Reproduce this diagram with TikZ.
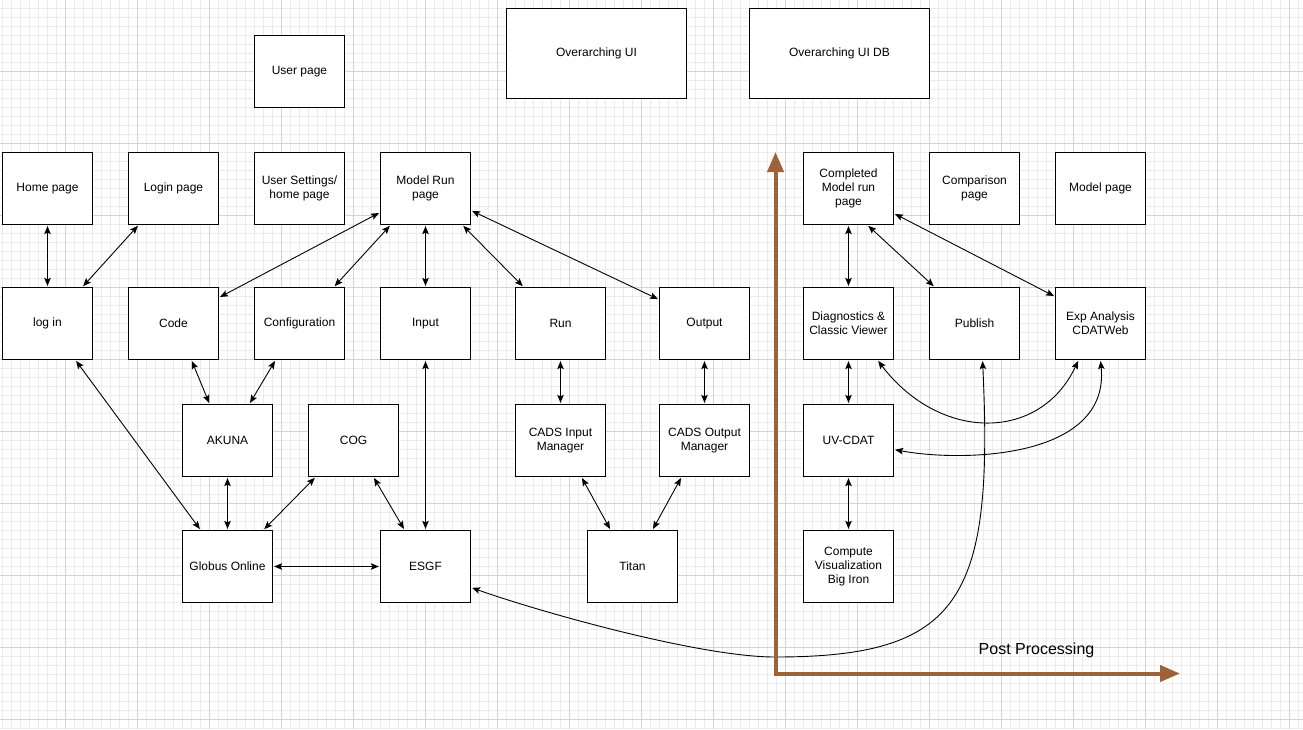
\documentclass[tikz,border=0pt]{standalone}
\usepackage{fontspec}
\setmainfont{Liberation Sans}
\usetikzlibrary{arrows.meta,calc}
\definecolor{brownax}{RGB}{156,99,56}
\definecolor{gridminor}{RGB}{236,236,236}
\definecolor{gridmajor}{RGB}{212,212,212}
\begin{document}
\begin{tikzpicture}[x=1pt,y=-1pt,
  box/.style={draw=black, line width=1.2pt, fill=white, minimum width=90pt, minimum height=72pt, inner sep=0pt, align=center, font=\fontsize{12}{14}\selectfont},
  bigbox/.style={box, minimum width=180pt, minimum height=90pt},
  link/.style={line width=0.9pt, {Stealth[length=8pt,width=6.5pt,inset=1.5pt]}-{Stealth[length=8pt,width=6.5pt,inset=1.5pt]}, shorten <=1pt, shorten >=1pt},
  axisline/.style={draw=brownax, line width=4pt, line join=miter, {Triangle[length=20pt,width=16pt]}-{Triangle[length=20pt,width=16pt]}},
  lbl/.style={font=\fontsize{16}{19}\selectfont}]
\useasboundingbox (0,0) rectangle (1303,729);
\fill[white] (0,0) rectangle (1303,729);
% grid
\foreach \x in {2.5,11.5,...,1303} \draw[gridminor, line width=0.8pt] (\x,0) -- (\x,729);
\foreach \y in {8.5,17.5,...,729} \draw[gridminor, line width=0.8pt] (0,\y) -- (1303,\y);
\foreach \x in {65.5,137.5,...,1303} \draw[gridmajor, line width=0.9pt] (\x,0) -- (\x,729);
\foreach \y in {71.5,143.5,...,729} \draw[gridmajor, line width=0.9pt] (0,\y) -- (1303,\y);

% top
\node[box] (user) at (299.5,71.5) {User page};
\node[bigbox] (oui) at (596.5,53.5) {Overarching UI};
\node[bigbox] (ouidb) at (839.5,53.5) {Overarching UI DB};
% row 1
\node[box] (home) at (47.5,188.5) {Home page};
\node[box] (loginp) at (173.5,188.5) {Login page};
\node[box] (usettings) at (299.5,188.5) {User Settings/\\home page};
\node[box] (modelrun) at (425.5,188.5) {Model Run\\page};
% row 2
\node[box] (login) at (47.5,323.5) {log in};
\node[box] (code) at (173.5,323.5) {Code};
\node[box] (config) at (299.5,323.5) {Configuration};
\node[box] (input) at (425.5,323.5) {Input};
\node[box] (run) at (560.5,323.5) {Run};
\node[box] (output) at (704.5,323.5) {Output};
% row 3
\node[box] (akuna) at (227.5,440.5) {AKUNA};
\node[box] (cog) at (353.5,440.5) {COG};
\node[box] (cadsin) at (560.5,440.5) {CADS Input\\Manager};
\node[box] (cadsout) at (704.5,440.5) {CADS Output\\Manager};
% row 4
\node[box] (globus) at (227.5,566.5) {Globus Online};
\node[box] (esgf) at (425.5,566.5) {ESGF};
\node[box] (titan) at (632.5,566.5) {Titan};
% right
\node[box] (completed) at (848.5,188.5) {Completed\\Model run\\page};
\node[box] (comparison) at (974.5,188.5) {Comparison\\page};
\node[box] (modelpage) at (1100.5,188.5) {Model page};
\node[box] (diag) at (848.5,323.5) {Diagnostics \&\\Classic Viewer};
\node[box] (publish) at (974.5,323.5) {Publish};
\node[box] (exp) at (1100.5,323.5) {Exp Analysis\\CDATWeb};
\node[box] (uvcdat) at (848.5,440.5) {UV-CDAT};
\node[box] (compute) at (848.5,566.5) {Compute\\Visualization\\Big Iron};

% connectors
\draw[link] (home.south) -- (login.north);
\draw[link] ([xshift=-35pt]loginp.south) -- ([xshift=35pt]login.north);
\draw[link] ([yshift=-24pt]modelrun.west) -- ([yshift=26pt]code.east);
\draw[link] ([xshift=-35pt]modelrun.south) -- ([xshift=34.5pt]config.north);
\draw[link] (modelrun.south) -- (input.north);
\draw[link] ([xshift=37pt]modelrun.south) -- ([xshift=-37pt]run.north);
\draw[link] ([yshift=-22pt]modelrun.east) -- ([yshift=24pt]output.west);
\draw[link] ([xshift=28pt]login.south) -- ([xshift=-27pt]globus.north);
\draw[link] ([xshift=18pt]code.south) -- ([xshift=-18pt]akuna.north);
\draw[link] ([xshift=-24pt]config.south) -- ([xshift=22pt]akuna.north);
\draw[link] (akuna.south) -- (globus.north);
\draw[link] ([xshift=-38pt]cog.south) -- ([xshift=36pt]globus.north);
\draw[link] ([xshift=20pt]cog.south) -- ([xshift=-21pt]esgf.north);
\draw[link] (input.south) -- (esgf.north);
\draw[link] (globus.east) -- (esgf.west);
\draw[link] (run.south) -- (cadsin.north);
\draw[link] (output.south) -- (cadsout.north);
\draw[link] ([xshift=21pt]cadsin.south) -- ([xshift=-22pt]titan.north);
\draw[link] ([xshift=-23pt]cadsout.south) -- ([xshift=20pt]titan.north);
\draw[link] (completed.south) -- (diag.north);
\draw[link] ([xshift=19pt]completed.south) -- ([xshift=-40pt]publish.north);
\draw[link] ([yshift=-25pt]completed.east) -- ([yshift=27pt]exp.west);
\draw[link] (diag.south) -- (uvcdat.north);
\draw[link] (uvcdat.south) -- (compute.north);
% curves
\draw[link] ([xshift=29pt]diag.south) .. controls (940,442) and (1040,442) .. ([xshift=-22pt]exp.south);
\draw[link] ([yshift=-9pt]uvcdat.east) .. controls (960,462) and (1110,460) .. (exp.south);
\coordinate (bend) at (775,657);
\draw[link] ([xshift=8pt]publish.south) .. controls (994,600) and (960,657) .. (bend) .. controls (700,657) and (540,612) .. ([yshift=-21pt]esgf.east);

% axes
\coordinate (corner) at (775.5,673.5);
\coordinate (ytip) at (775.5,152);
\coordinate (xtip) at (1180,673.5);
\draw[axisline] (ytip) -- (corner) -- (xtip);
\node[lbl] (pp) at (1036.5,650) {Post Processing};
\end{tikzpicture}
\end{document}
